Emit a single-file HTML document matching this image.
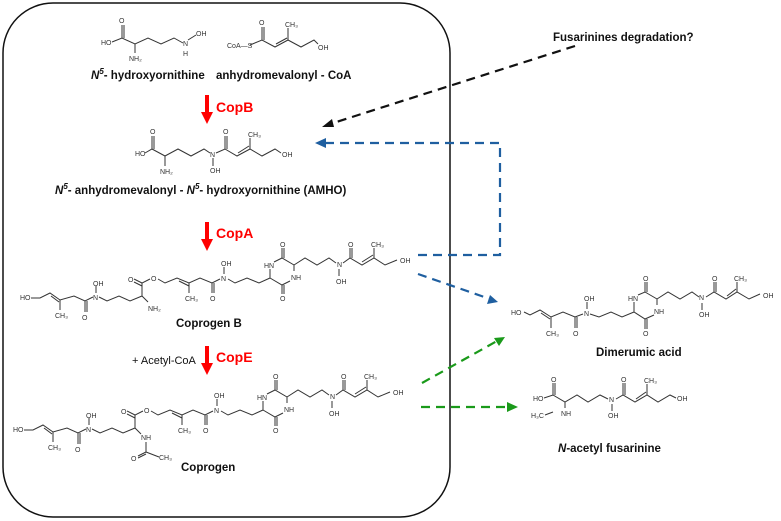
<!DOCTYPE html><html><head><meta charset="utf-8"><style>
body{margin:0;background:#fff}
svg{display:block;font-family:"Liberation Sans",sans-serif}
.a{font-size:7px;fill:#333}
.t{font-size:11.5px;font-weight:bold;fill:#111}
.r{font-size:14px;font-weight:bold;fill:#f00}
</style></head><body>
<svg id="s" width="781" height="521" viewBox="0 0 781 521" xmlns="http://www.w3.org/2000/svg">
<rect x="3" y="3" width="447" height="514" rx="50" fill="none" stroke="#111" stroke-width="1.5"/>
<g id="m" fill="none" stroke="#333" stroke-width="1"></g>
<g id="lab"></g>
<text class="t" x="91" y="79"><tspan font-style="italic">N</tspan><tspan font-size="8" dy="-5" font-style="italic">5</tspan><tspan dy="5">- hydroxyornithine</tspan></text>
<text class="t" x="216" y="79">anhydromevalonyl - CoA</text>
<text class="t" x="55" y="194"><tspan font-style="italic">N</tspan><tspan font-size="8" dy="-5" font-style="italic">5</tspan><tspan dy="5">- anhydromevalonyl - </tspan><tspan font-style="italic">N</tspan><tspan font-size="8" dy="-5" font-style="italic">5</tspan><tspan dy="5">- hydroxyornithine (AMHO)</tspan></text>
<text class="t" x="176" y="327">Coprogen B</text>
<text class="t" x="181" y="471">Coprogen</text>
<text class="t" x="553" y="41">Fusarinines degradation?</text>
<text class="t" x="596" y="356">Dimerumic acid</text>
<text class="t" x="558" y="452"><tspan font-style="italic">N</tspan>-acetyl fusarinine</text>
<text x="132" y="364" font-size="11" fill="#111">+ Acetyl-CoA</text>
<g fill="#f00"><rect x="205" y="95" width="4" height="18"/><polygon points="201,112 213,112 207,124"/>
<rect x="205" y="222" width="4" height="18"/><polygon points="201,239 213,239 207,251"/>
<rect x="205" y="346" width="4" height="18"/><polygon points="201,363 213,363 207,375"/></g>
<text class="r" x="216" y="112">CopB</text><text class="r" x="216" y="238">CopA</text><text class="r" x="216" y="362">CopE</text>
<g fill="none" stroke-width="2.2" stroke-dasharray="9,6">
<line x1="575" y1="46" x2="330" y2="124" stroke="#111"/>
<polyline points="418,255 500,255 500,143 325,143" stroke="#1f5fa0"/>
<line x1="418" y1="274" x2="490" y2="299" stroke="#1f5fa0"/>
<line x1="422" y1="383" x2="497" y2="341" stroke="#1a9a1a"/>
<line x1="421" y1="407" x2="508" y2="407" stroke="#1a9a1a"/>
</g>
<polygon points="322,127 332,119 334,127" fill="#111"/>
<polygon points="315,143 326,138 326,148" fill="#1f5fa0"/>
<polygon points="498,302 487,304 490,295" fill="#1f5fa0"/>
<polygon points="505,337 499,346 494,338" fill="#1a9a1a"/>
<polygon points="518,407 507,402 507,412" fill="#1a9a1a"/>
</svg>
<script>
var m=document.getElementById('m'),L=document.getElementById('lab'),NS='http://www.w3.org/2000/svg';
function pl(p,dx,dy){var e=document.createElementNS(NS,'polyline');e.setAttribute('points',p.map(function(q){return (q[0]+dx)+','+(q[1]+dy)}).join(' '));m.appendChild(e);}
function tx(s,x,y,dx,dy){var e=document.createElementNS(NS,'text');e.setAttribute('class','a');e.setAttribute('x',x+dx);e.setAttribute('y',y+dy);e.textContent=s;L.appendChild(e);}
function ln(a,b,c,d,dx,dy){pl([[a,b],[c,d]],dx,dy);}
pl([[112,42],[122,38],[135,44],[148,38],[161,44],[174,38],[183,43]],0,0);ln(122,38,122,25,0,0);ln(124,38,124,25,0,0);ln(135,44,135,53,0,0);ln(188,40,196,35,0,0);
tx('HO',101,45,0,0);tx('O',119,23,0,0);tx('NH₂',129,61,0,0);tx('N',183,46,0,0);tx('H',183,56,0,0);tx('OH',196,36,0,0);
pl([[250,45],[262,40],[275,47],[288,40],[301,47],[314,40],[318,44]],0,0);ln(262,40,262,27,0,0);ln(264,40,264,27,0,0);ln(276,44,287,38,0,0);ln(288,40,288,28,0,0);
tx('CoA—S',227,48,0,0);tx('O',259,25,0,0);tx('CH₃',285,27,0,0);tx('OH',318,50,0,0);
pl([[145,153],[152,149],[165,156],[178,149],[191,156],[204,149],[210,153]],0,0);pl([[216,153],[225,149],[237,156],[250,149],[262,156],[275,149],[281,153]],0,0);
ln(152,149,152,136,0,0);ln(154,149,154,136,0,0);ln(165,156,165,166,0,0);ln(213,158,213,166,0,0);ln(225,149,225,136,0,0);ln(227,149,227,136,0,0);ln(238,153,249,146,0,0);ln(250,149,250,138,0,0);
tx('HO',135,156,0,0);tx('O',150,134,0,0);tx('NH₂',160,174,0,0);tx('N',210,157,0,0);tx('OH',210,173,0,0);tx('O',223,134,0,0);tx('CH₃',248,137,0,0);tx('OH',282,157,0,0);
function cop(dx,dy,acetyl){
pl([[24,430],[33,430],[43,425],[53,432],[67,428],[78,433],[86,429]],dx,dy);
pl([[92,429],[100,433],[112,428],[123,433],[135,428],[135,415],[143,411]],dx,dy);
pl([[151,411],[158,415],[170,410],[182,415],[193,410],[205,415],[213,411]],dx,dy);
pl([[221,411],[228,415],[240,410],[252,415],[263,410],[263,401]],dx,dy);
pl([[267,394],[275,390],[287,397],[287,403]],dx,dy);pl([[283,413],[275,417],[263,410]],dx,dy);
pl([[287,397],[298,390],[310,397],[322,390],[329,395]],dx,dy);pl([[336,395],[343,390],[355,397],[367,390],[378,397],[390,392]],dx,dy);
ln(53,432,53,442,dx,dy);ln(44,428,52,434,dx,dy);ln(78,433,78,444,dx,dy);ln(80,433,80,444,dx,dy);ln(89,425,89,418,dx,dy);
ln(135,415,127,411,dx,dy);ln(135,418,127,414,dx,dy);ln(182,415,182,425,dx,dy);ln(172,413,182,418,dx,dy);ln(205,415,205,425,dx,dy);ln(207,415,207,425,dx,dy);
ln(217,406,217,399,dx,dy);ln(275,390,275,380,dx,dy);ln(277,390,277,380,dx,dy);ln(275,417,275,426,dx,dy);ln(277,417,277,426,dx,dy);
ln(332,401,332,408,dx,dy);ln(343,390,343,380,dx,dy);ln(345,390,345,380,dx,dy);ln(355,394,366,387,dx,dy);ln(367,390,367,380,dx,dy);
ln(135,428,141,434,dx,dy);
tx('HO',13,432,dx,dy);tx('CH₃',48,450,dx,dy);tx('O',75,452,dx,dy);tx('N',86,432,dx,dy);tx('OH',86,418,dx,dy);tx('O',121,414,dx,dy);tx('O',144,413,dx,dy);
tx('CH₃',178,433,dx,dy);tx('O',203,433,dx,dy);tx('N',214,413,dx,dy);tx('OH',214,398,dx,dy);tx('HN',257,400,dx,dy);tx('O',273,379,dx,dy);tx('NH',284,412,dx,dy);tx('O',273,433,dx,dy);
tx('N',330,399,dx,dy);tx('OH',329,416,dx,dy);tx('O',341,379,dx,dy);tx('CH₃',364,379,dx,dy);tx('OH',393,395,dx,dy);
if(acetyl){tx('NH',141,440,dx,dy);pl([[146,442],[146,452],[159,457]],dx,dy);ln(146,452,138,456,dx,dy);ln(146,454,138,458,dx,dy);tx('O',131,461,dx,dy);tx('CH₃',159,460,dx,dy);}
else{tx('NH₂',141,443,dx,dy);}
}
cop(7,-132,false);cop(0,0,true);
pl([[524,312],[530,315],[540,310],[551,317],[563,312],[575,317],[583,314]],0,0);
pl([[590,314],[599,317],[611,312],[622,317],[634,312],[634,302]],0,0);
pl([[638,295],[645,292],[657,299],[657,305]],0,0);pl([[654,315],[645,319],[634,312]],0,0);
pl([[657,299],[668,292],[680,299],[692,292],[699,297]],0,0);pl([[706,297],[714,292],[726,299],[737,292],[749,299],[760,294]],0,0);
ln(551,317,551,328,0,0);ln(541,313,550,319,0,0);ln(575,317,575,328,0,0);ln(577,317,577,328,0,0);ln(587,309,587,302,0,0);
ln(645,292,645,282,0,0);ln(647,292,647,282,0,0);ln(645,319,645,329,0,0);ln(647,319,647,329,0,0);ln(702,303,702,310,0,0);
ln(714,292,714,282,0,0);ln(716,292,716,282,0,0);ln(727,296,736,289,0,0);ln(737,292,737,282,0,0);
tx('HO',511,315,0,0);tx('CH₃',546,336,0,0);tx('O',573,336,0,0);tx('N',584,316,0,0);tx('OH',584,301,0,0);tx('HN',628,301,0,0);tx('O',643,281,0,0);tx('NH',654,314,0,0);tx('O',643,336,0,0);
tx('N',699,300,0,0);tx('OH',699,317,0,0);tx('O',712,281,0,0);tx('CH₃',734,281,0,0);tx('OH',763,298,0,0);
pl([[544,398],[553,395],[565,402],[577,395],[588,402],[600,395],[608,399]],0,0);pl([[616,399],[623,395],[635,402],[647,395],[658,402],[670,395],[676,398]],0,0);
ln(553,395,553,383,0,0);ln(555,395,555,383,0,0);ln(565,402,565,408,0,0);ln(612,404,612,411,0,0);ln(623,395,623,383,0,0);ln(625,395,625,383,0,0);ln(636,399,646,392,0,0);ln(647,395,647,384,0,0);ln(545,415,553,412,0,0);
tx('HO',533,401,0,0);tx('O',551,382,0,0);tx('NH',561,416,0,0);tx('H₃C',531,418,0,0);tx('N',609,402,0,0);tx('OH',608,418,0,0);tx('O',621,382,0,0);tx('CH₃',644,383,0,0);tx('OH',677,401,0,0);
</script>
</body></html>
